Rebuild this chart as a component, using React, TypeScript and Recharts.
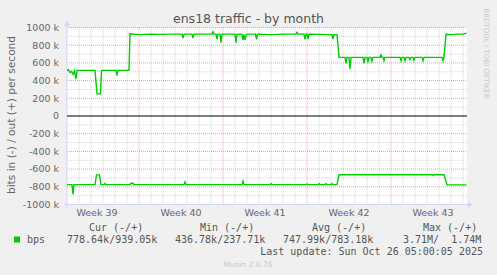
import { LineChart, Line, XAxis, YAxis, CartesianGrid, ReferenceLine } from "recharts";

// hours since the left edge of the graph (2h per pixel, 800h shown)
const outHours = [0, 3, 6, 9, 12, 15, 18, 20, 56, 60, 67, 69, 98, 100, 102, 124, 126, 146, 166, 186, 206, 230, 232, 234, 250, 252, 254, 290, 292, 294, 298, 300, 302, 306, 308, 310, 336, 338, 340, 350, 352, 354, 356, 359, 377, 379, 381, 406, 436, 458, 460, 462, 474, 476, 478, 480, 482, 484, 530, 532, 534, 540, 544, 556, 558, 560, 564, 566, 568, 592, 594, 596, 600, 602, 604, 608, 610, 612, 626, 628, 630, 632, 634, 636, 666, 668, 670, 674, 676, 678, 684, 686, 688, 692, 694, 696, 710, 712, 714, 750, 752, 754, 758, 770, 782, 792, 799];
// out (+), kbit/s
const outK = [510, 525, 490, 505, 470, 510, 420, 515, 515, 250, 250, 515, 515, 455, 515, 515, 930, 920, 925, 922, 925, 925, 880, 925, 925, 880, 925, 925, 952, 925, 925, 870, 925, 925, 828, 925, 925, 828, 925, 922, 858, 920, 860, 925, 925, 866, 925, 920, 925, 925, 945, 925, 925, 866, 925, 925, 870, 925, 920, 870, 920, 920, 663, 663, 595, 663, 663, 531, 663, 663, 595, 663, 663, 620, 663, 663, 620, 663, 663, 690, 663, 663, 625, 663, 663, 625, 663, 663, 625, 663, 663, 640, 663, 663, 630, 663, 663, 625, 663, 663, 625, 663, 923, 920, 925, 925, 935];

const inHours = [0, 10, 12, 14, 56, 59, 65, 68, 74, 76, 78, 126, 128, 132, 134, 234, 236, 238, 350, 352, 354, 406, 408, 410, 478, 480, 482, 502, 504, 506, 516, 518, 520, 528, 530, 532, 540, 544, 730, 732, 734, 754, 760, 799];
// in (-), kbit/s, plotted below zero
const inK = [-775, -775, -885, -775, -775, -665, -665, -775, -775, -762, -775, -775, -760, -760, -775, -775, -745, -775, -775, -735, -775, -775, -765, -775, -775, -768, -775, -775, -765, -775, -775, -765, -775, -775, -765, -775, -775, -663, -663, -672, -663, -663, -778, -778];

const weekTicks = [60, 228, 396, 564, 732];
const weekLabels = ["Week 39", "Week 40", "Week 41", "Week 42", "Week 43"];
const weekStarts = [144, 312, 480, 648];
const dayLines = Array.from({ length: 33 }, (_, i) => (i + 1) * 24).filter((h) => !weekStarts.includes(h));
const yTicks = [-1000, -800, -600, -400, -200, 0, 200, 400, 600, 800, 1000];
const yMinor = [-900, -700, -500, -300, -100, 100, 300, 500, 700, 900];
const yMajor = [-800, -600, -400, -200, 200, 400, 600, 800, 1000];

const outData = outHours.map((h, i) => ({ h, v: outK[i] }));
const inData = inHours.map((h, i) => ({ h, v: inK[i] }));

const AXIS = "#CFD6F8";
const GREEN = "#00CC00";
const FONT = "#666666";

function VAxisShape(p: any) {
  const top = Math.min(p.y1, p.y2);
  const bot = Math.max(p.y1, p.y2);
  return (
    <g>
      <line x1={p.x1} x2={p.x1} y1={bot + 3} y2={top - 3} stroke={AXIS} strokeWidth={1} />
      <polygon points={`${p.x1 - 3},${top - 2} ${p.x1 + 3},${top - 2} ${p.x1},${top - 7}`} fill={AXIS} />
    </g>
  );
}

function HAxisShape(p: any) {
  const l = Math.min(p.x1, p.x2);
  const r = Math.max(p.x1, p.x2);
  return (
    <g>
      <line x1={l - 3} x2={r + 2} y1={p.y1} y2={p.y1} stroke={AXIS} strokeWidth={1} />
      <polygon points={`${r + 1},${p.y1 - 3} ${r + 1},${p.y1 + 3} ${r + 6},${p.y1}`} fill={AXIS} />
    </g>
  );
}

const mono = { fontFamily: "'DejaVu Sans Mono', monospace", fontSize: 10, fill: "#555", whiteSpace: "pre" as const };

export default function App() {
  return (
    <div style={{ position: "absolute", left: 0, top: 0, width: 497, height: 275, background: "#F0F0F0", overflow: "hidden" }}>
      <LineChart width={497} height={275} margin={{ top: 27.5, right: 30, left: 7, bottom: 50.5 }}>
        <CartesianGrid fill="#ffffff" horizontal={false} vertical={false} stroke="none" />
        <XAxis
          type="number"
          dataKey="h"
          domain={[0, 800]}
          ticks={weekTicks}
          tickFormatter={(v) => weekLabels[weekTicks.indexOf(v)] ?? ""}
          axisLine={false}
          tickLine={false}
          tickSize={0}
          tickMargin={5}
          height={20}
          interval={0}
          allowDataOverflow
          tick={{ fill: FONT, fontSize: 9.5, fontFamily: "'DejaVu Sans', sans-serif" }}
        />
        <YAxis
          type="number"
          domain={[-1000, 1000]}
          ticks={yTicks}
          tickFormatter={(v) => (v === 0 ? "0" : `${v} k`)}
          axisLine={false}
          tickLine={false}
          tickSize={0}
          tickMargin={8}
          width={60}
          interval={0}
          allowDataOverflow
          tick={{ fill: FONT, fontSize: 9.5, fontFamily: "'DejaVu Sans', sans-serif" }}
        />
        {yMinor.map((v) => (
          <ReferenceLine key={"ym" + v} y={v} stroke="#D4D4D4" strokeDasharray="1 1" />
        ))}
        {dayLines.map((h) => (
          <ReferenceLine key={"d" + h} x={h} stroke="#D4D4D4" strokeDasharray="1 1" />
        ))}
        {yMajor.map((v) => (
          <ReferenceLine key={"yM" + v} y={v} stroke="#EBA0A0" strokeDasharray="1 1" />
        ))}
        {weekStarts.map((h) => (
          <ReferenceLine key={"w" + h} x={h} stroke="#EBA0A0" strokeDasharray="1 1" />
        ))}
        <ReferenceLine y={-1000} shape={HAxisShape} ifOverflow="visible" />
        <ReferenceLine x={0} shape={VAxisShape} ifOverflow="visible" />
        <ReferenceLine y={0} stroke="#000000" strokeWidth={1} />
        <Line data={outData} dataKey="v" type="linear" stroke={GREEN} strokeWidth={1.4} dot={false} isAnimationActive={false} />
        <Line data={inData} dataKey="v" type="linear" stroke={GREEN} strokeWidth={1.4} dot={false} isAnimationActive={false} />
      </LineChart>
      <svg width={497} height={275} style={{ position: "absolute", left: 0, top: 0, pointerEvents: "none" }}>
        <text x={248.5} y={23} textAnchor="middle" fontFamily="'DejaVu Sans', sans-serif" fontSize={12.5} fill="#555">
          ens18 traffic - by month
        </text>
        <text
          transform="translate(15,115) rotate(-90)"
          textAnchor="middle"
          fontFamily="'DejaVu Sans', sans-serif"
          fontSize={10.6}
          fill={FONT}
        >
          bits in (-) / out (+) per second
        </text>
        <text
          transform="translate(484,53.5) rotate(90)"
          textAnchor="middle"
          fontFamily="'DejaVu Sans', sans-serif"
          fontSize={7}
          fill="#C8C8C8"
        >
          RRDTOOL / TOBI OETIKER
        </text>
        <text x={89} y={231} style={mono}>Cur (-/+)</text>
        <text x={200} y={231} style={mono}>Min (-/+)</text>
        <text x={312} y={231} style={mono}>Avg (-/+)</text>
        <text x={423} y={231} style={mono}>Max (-/+)</text>
        <rect x={14} y={236.5} width={6} height={6} fill={GREEN} />
        <text x={27} y={243.3} style={mono}>bps</text>
        <text x={67} y={243.3} style={mono}>778.64k/939.05k</text>
        <text x={175} y={243.3} style={mono}>436.78k/237.71k</text>
        <text x={283} y={243.3} style={mono}>747.99k/783.18k</text>
        <text x={403} y={243.3} style={mono}>3.71M/  1.74M</text>
        <text x={483} y={255.3} textAnchor="end" style={mono}>Last update: Sun Oct 26 05:00:05 2025</text>
        <text x={248} y={266.5} textAnchor="middle" fontFamily="'DejaVu Sans', sans-serif" fontSize={7.5} fill="#C8C8C8">
          Munin 2.0.76
        </text>
      </svg>
    </div>
  );
}
